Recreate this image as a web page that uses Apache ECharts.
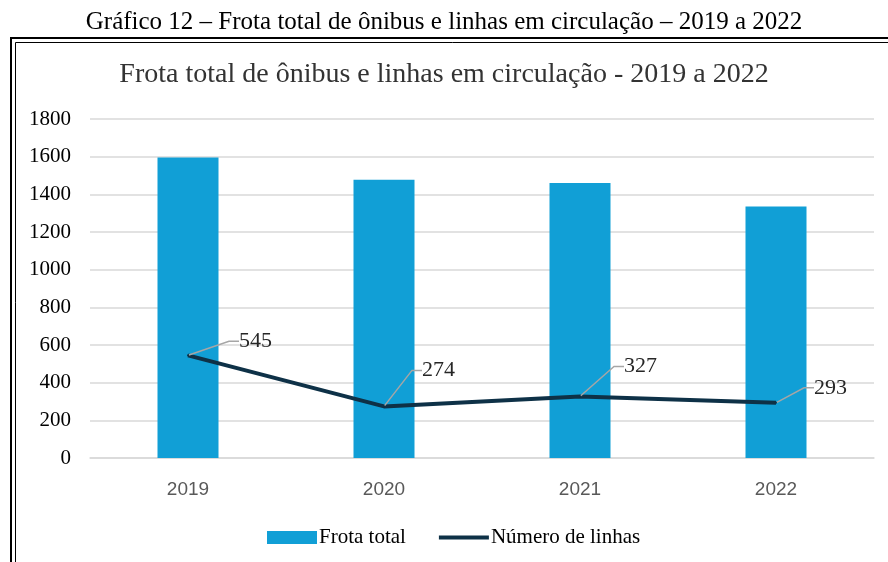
<!DOCTYPE html>
<html>
<head>
<meta charset="utf-8">
<script src="https://cdn.jsdelivr.net/npm/echarts@6/dist/echarts.min.js"></script>
<style>
  html, body { margin: 0; padding: 0; background: #fff; }
  #chart { width: 888px; height: 562px; }
</style>
</head>
<body>
<div id="chart"></div>
<script>
const anos = ['2019', '2020', '2021', '2022'];
const frotaTotal = [1596, 1478, 1460, 1335];
const numeroLinhas = [545, 274, 327, 293];
const yTicks = { min: 0, max: 1800, interval: 200 };

const serif = '"Liberation Serif", "Times New Roman", serif';

// deslocamento dos rótulos da linha (px), como no gráfico original
const labelOffsets = [[50, -14], [37, -36], [43, -30], [37, -15]];

const chart = echarts.init(document.getElementById('chart'));

const option = {
    animation: false,
    title: [
        {
            text: 'Gráfico 12 – Frota total de ônibus e linhas em circulação – 2019 a 2022',
            left: 'center',
            top: 5,
            textStyle: { fontFamily: serif, fontSize: 25, fontWeight: 'normal', color: '#000' }
        },
        {
            text: 'Frota total de ônibus e linhas em circulação - 2019 a 2022',
            left: 'center',
            top: 56,
            textStyle: { fontFamily: serif, fontSize: 28, fontWeight: 'normal', color: '#333' }
        }
    ],
    graphic: [
        { type: 'rect', shape: { x: 11, y: 38, width: 900, height: 600 }, style: { fill: 'none', stroke: '#000', lineWidth: 2 } },
        { type: 'rect', shape: { x: 15.5, y: 42.5, width: 900, height: 600 }, style: { fill: 'none', stroke: '#000', lineWidth: 1 } }
    ],
    legend: {
        left: 262,
        top: 522,
        itemGap: 31,
        itemWidth: 50,
        itemHeight: 13,
        textStyle: { fontFamily: serif, fontSize: 21, color: '#000', padding: [0, 0, 0, -3] },
        data: [
            { name: 'Frota total', icon: 'rect' },
            { name: 'Número de linhas', itemStyle: { opacity: 0 }, lineStyle: { width: 4 } }
        ]
    },
    grid: { left: 90, right: 14, top: 119, bottom: 104 },
    xAxis: {
        type: 'category',
        data: anos,
        axisLine: { lineStyle: { color: '#d9d9d9', width: 1.5 } },
        axisTick: { show: false },
        axisLabel: { margin: 22, fontFamily: '"Liberation Sans", Arial, sans-serif', fontSize: 19, color: '#595959' }
    },
    yAxis: {
        type: 'value',
        min: yTicks.min,
        max: yTicks.max,
        interval: yTicks.interval,
        axisLine: { show: false },
        axisTick: { show: false },
        axisLabel: {
            margin: 19,
            fontFamily: serif,
            fontSize: 21,
            color: '#000',
            formatter: v => String(v)
        },
        splitLine: { lineStyle: { color: '#d9d9d9', width: 1.5 } }
    },
    series: [
        {
            name: 'Frota total',
            type: 'bar',
            data: frotaTotal,
            barWidth: 61,
            itemStyle: { color: '#119fd6' }
        },
        {
            name: 'Número de linhas',
            type: 'line',
            data: numeroLinhas,
            symbol: 'circle',
            symbolSize: 2,
            lineStyle: { color: '#0e3147', width: 4 },
            itemStyle: { color: '#0e3147' },
            label: {
                show: true,
                position: 'right',
                distance: 0,
                fontFamily: serif,
                fontSize: 22,
                color: '#262626'
            },
            labelLayout: function (params) {
                const off = labelOffsets[params.dataIndex];
                return { dx: off[0], dy: off[1] };
            },
            labelLine: {
                show: true,
                length2: 10,
                lineStyle: { color: '#a6a6a6', width: 1.5 }
            }
        }
    ]
};

chart.setOption(option);
</script>
</body>
</html>
